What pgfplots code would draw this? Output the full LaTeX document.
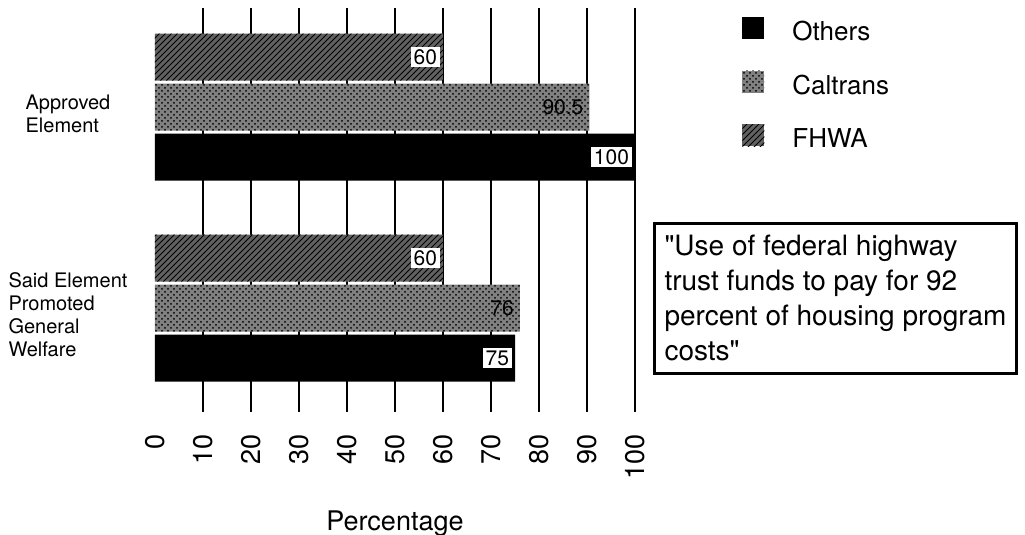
\documentclass[border=0pt]{standalone}
\usepackage{fontspec}
\setmainfont{TeX Gyre Heros}[Ligatures=TeXOff]
\usepackage{pgfplots}
\pgfplotsset{compat=1.18}
\usetikzlibrary{patterns}
\begin{document}
\begin{tikzpicture}
\useasboundingbox (0,0) rectangle (512.5pt,267.5pt);
\begin{axis}[
  at={(77.5pt,61.5pt)}, anchor=south west,
  scale only axis, width=240pt, height=202pt,
  xmin=0, xmax=100, ymin=-0.517, ymax=1.4925,
  xbar=1.5pt, bar width=23.5pt,
  axis line style={draw=none},
  major tick length=0pt,
  xtick={10,20,...,100},
  extra x ticks={0},
  extra x tick style={grid=none},
  xmajorgrids,
  major grid style={black, line width=1.4pt},
  ytick={0,1},
  yticklabels={{Said Element\\Promoted\\General\\Welfare},{Approved\\Element}},
  yticklabel style={align=left, anchor=center, xshift=-43.5pt, yshift=-3.5pt, font=\fontsize{10}{11.5}\selectfont},
  xticklabel style={rotate=90, anchor=east, inner sep=0pt, font=\fontsize{13.5}{14}\selectfont},
  xticklabel shift=11pt,
  /pgf/number format/assume math mode=true,
  xlabel={Percentage},
  xlabel style={at={(axis description cs:0.5,-0.2426)}, anchor=north, inner sep=0pt, font=\fontsize{13.5}{14}\selectfont},
  point meta=explicit symbolic,
  nodes near coords,
  every node near coord/.append style={anchor=east, xshift=-1.5pt, inner sep=1.3pt, font=\fontsize{10.5}{11}\selectfont},
  legend style={at={(1.2229,0.9777)}, anchor=north west, draw=none, fill=none, inner sep=0pt, row sep=13.6pt, font=\fontsize{13}{14}\selectfont, nodes={inner sep=0pt}, /tikz/every odd column/.style={column sep=14pt}},
  legend cell align=left,
  legend image code/.code={\path[#1, draw=none] (0pt,-3.5pt) rectangle (11pt,7.5pt);},
]
\addplot[fill=black, draw=none, every node near coord/.append style={fill=white}]
  coordinates {(75,0) [75] (100,1) [100]};
\addplot[fill=black!50, draw=none, postaction={pattern=crosshatch dots, pattern color=black}]
  coordinates {(76,0) [76] (90.5,1) [90.5]};
\addplot[fill=black!62, draw=none, postaction={pattern=north east lines, pattern color=black}, every node near coord/.append style={fill=white}]
  coordinates {(60,0) [60] (60,1) [60]};
\legend{Others, Caltrans, FHWA}
\end{axis}
\node[draw, line width=1.5pt, anchor=north west, align=left, inner xsep=5pt, inner ysep=6pt, font=\fontsize{14}{17.5}\selectfont]
  at (326.5pt,156.5pt) {"Use of federal highway\\trust funds to pay for 92\\percent of housing program\\costs"};
\end{tikzpicture}
\end{document}
